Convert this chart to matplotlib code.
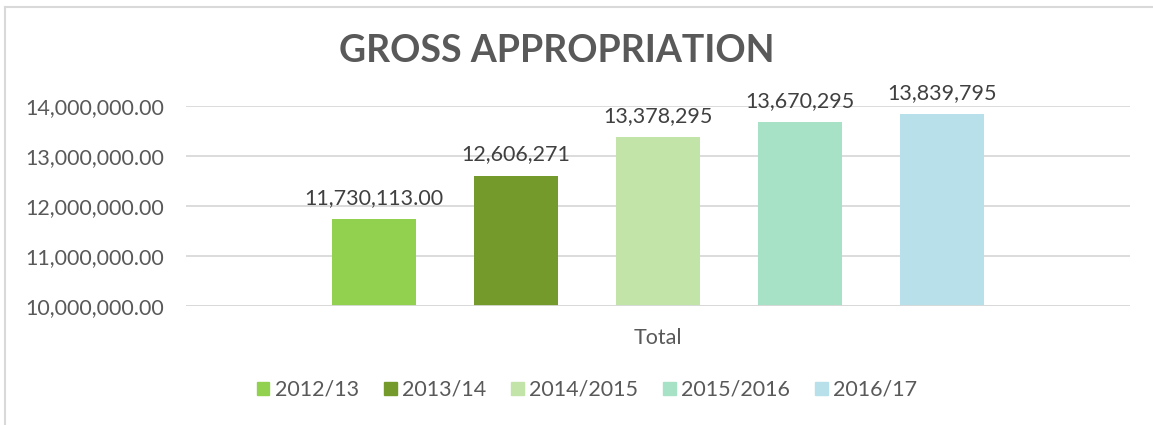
import matplotlib
matplotlib.use("Agg")
import matplotlib.pyplot as plt
from matplotlib.patches import Rectangle
from matplotlib.lines import Line2D

series = ["2012/13", "2013/14", "2014/2015", "2015/2016", "2016/17"]
values = [11730113.00, 12606271, 13378295, 13670295, 13839795]
labels = ["11,730,113.00", "12,606,271", "13,378,295", "13,670,295", "13,839,795"]
colors = ["#92D050", "#739A2A", "#C3E4A9", "#A8E2C6", "#B8E0EA"]
category = "Total"
yticks = [10000000, 11000000, 12000000, 13000000, 14000000]

plt.rcParams['font.family'] = ['Lato', 'DejaVu Sans']

W, H = 1153, 425
fig = plt.figure(figsize=(W / 100, H / 100), dpi=100)
ax = fig.add_axes([186 / W, 1 - 306 / H, (1130 - 186) / W, 200 / H])

FS = 15.5
step = 142 / 944
width = 84 / 944
for i, (v, c, lab) in enumerate(zip(values, colors, labels)):
    x = (i - 2) * step
    ax.bar(x, v - yticks[0], bottom=yticks[0], width=width, color=c, label=series[i], zorder=3)
    ax.annotate(lab, (x, v), xytext=(0, 8), textcoords="offset points",
                ha="center", va="bottom", fontsize=FS, color="#404040")

ax.set_xlim(-0.5, 0.5)
ax.set_ylim(yticks[0], yticks[-1])
ax.set_yticks(yticks)
ax.set_yticklabels([f"{t:,.2f}" for t in yticks], fontsize=FS, color="#595959")
ax.set_xticks([0])
ax.set_xticklabels([category], fontsize=FS, color="#595959")
ax.tick_params(axis="both", length=0)
ax.tick_params(axis="y", pad=16)
ax.tick_params(axis="x", pad=16)
ax.grid(axis="y", color="#D9D9D9", linewidth=1.3, zorder=0)
for s in ax.spines.values():
    s.set_visible(False)
ax.axhline(yticks[0], color="#D9D9D9", linewidth=1.3, zorder=4)

fig.text(557 / W, 1 - 51 / H, "GROSS APPROPRIATION", ha="center", va="center",
         fontsize=27, fontweight="bold", color="#595959")

handles = [Rectangle((0, 0), 1, 1, color=c) for c in colors]
fig.legend(handles, series, loc="center", bbox_to_anchor=(587 / W, 1 - 390 / H),
           ncol=5, frameon=False, fontsize=FS, labelcolor="#595959",
           handlelength=0.6, handleheight=0.6, handletextpad=0.25, columnspacing=1.15)

# chart border (left and top visible)
fig.add_artist(Line2D([5 / W, 5 / W], [0, 1 - 7 / H], color="#D9D9D9", linewidth=1.5))
fig.add_artist(Line2D([5 / W, 1], [1 - 7 / H, 1 - 7 / H], color="#D9D9D9", linewidth=1.5))

fig.savefig("out.png", dpi=100)
